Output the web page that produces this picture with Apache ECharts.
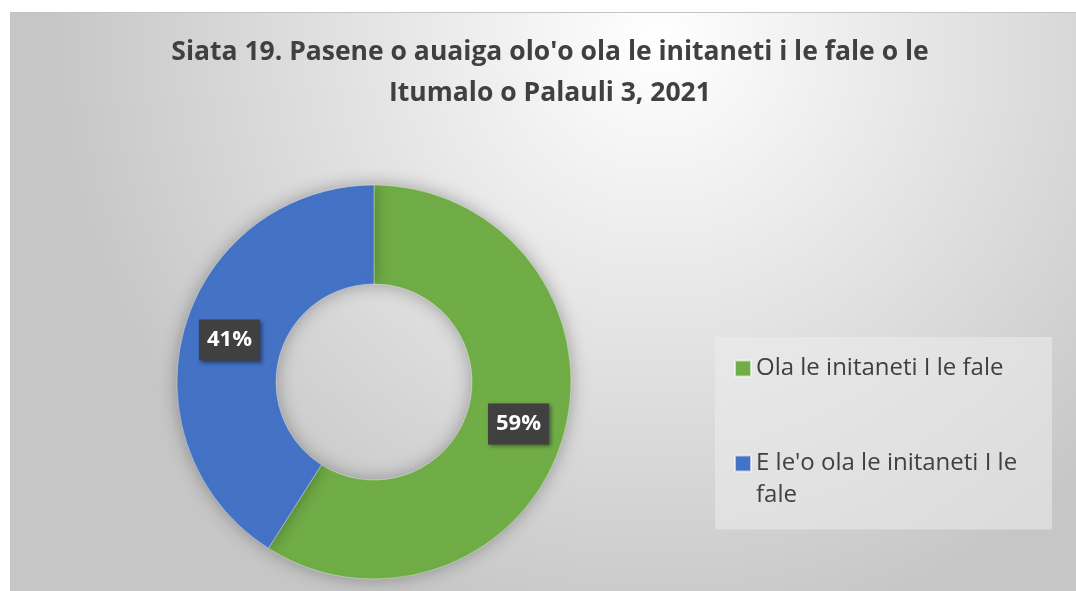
<!DOCTYPE html>
<html>
<head>
<meta charset="utf-8">
<script src="https://cdn.jsdelivr.net/npm/echarts@6/dist/echarts.min.js"></script>
<style>
  html, body { margin: 0; padding: 0; background: #fff; overflow: hidden; }
  #chart {
    position: absolute; left: 10px; top: 12px;
    width: 1078px; height: 578px;
    border-top: 1px solid #c4c4c4; border-left: 1px solid #c4c4c4;
  }
</style>
</head>
<body>
<div id="chart"></div>
<script>
const titleText = "Siata 19. Pasene o auaiga olo'o ola le initaneti i le fale o le\nItumalo o Palauli 3, 2021";
const categories = ['Ola le initaneti I le fale', "E le'o ola le initaneti I le fale"];
const values = [59, 41];
const colors = ['#70AD47', '#4472C4'];

const chart = echarts.init(document.getElementById('chart'));

const option = {
  backgroundColor: {
    type: 'radial', x: 0.6, y: 0.05, r: 1.05,
    colorStops: [
      { offset: 0, color: '#ffffff' },
      { offset: 1, color: '#c6c6c6' }
    ]
  },
  title: {
    text: titleText,
    left: 'center',
    top: 14,
    textStyle: {
      fontFamily: 'Open Sans',
      fontWeight: 'bold',
      fontSize: 26.5,
      lineHeight: 41,
      color: '#404040'
    }
  },
  legend: {
    orient: 'vertical',
    left: 704,
    top: 324,
    padding: [15.5, 6, 18, 19],
    backgroundColor: 'rgba(236,236,236,0.55)',
    itemWidth: 16,
    itemHeight: 16,
    itemGap: 31,
    icon: 'rect',
    data: categories,
    // second entry wraps; a leading blank line keeps its first line level with the swatch
    formatter: name => name === categories[1] ? "\nE le'o ola le initaneti I le\nfale" : name,
    textStyle: {
      fontFamily: 'Open Sans',
      fontSize: 24,
      lineHeight: 32,
      color: '#404040',
      width: 290
    }
  },
  series: [{
    type: 'pie',
    center: [363, 369],
    radius: [98, 197],
    startAngle: 90,
    clockwise: true,
    avoidLabelOverlap: false,
    data: categories.map((c, i) => ({ name: c, value: values[i], itemStyle: { color: colors[i] } })),
    itemStyle: {
      borderColor: 'rgba(255,255,255,0.6)',
      borderWidth: 0.6,
      shadowBlur: 18,
      shadowColor: 'rgba(0,0,0,0.3)'
    },
    label: {
      show: true,
      position: 'inside',
      formatter: '{c}%',
      color: '#fff',
      fontFamily: 'Open Sans',
      fontWeight: 'bold',
      fontSize: 22,
      lineHeight: 29,
      backgroundColor: '#404040',
      padding: [6, 8],
      shadowBlur: 4,
      shadowOffsetX: 2,
      shadowOffsetY: 2,
      shadowColor: 'rgba(0,0,0,0.45)'
    },
    labelLine: { show: false },
    emphasis: { disabled: true }
  }]
};

chart.setOption(option);
</script>
</body>
</html>
